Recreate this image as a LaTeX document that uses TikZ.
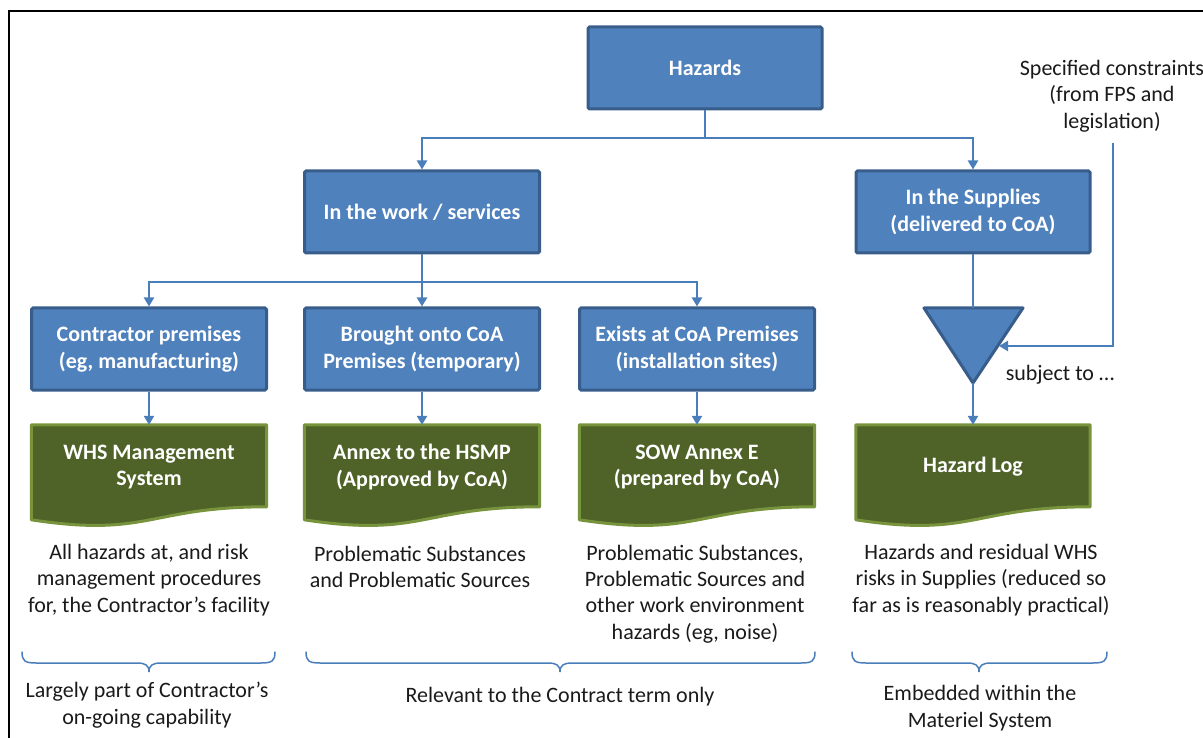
\documentclass[tikz,border=0pt]{standalone}
\usepackage{fontspec}
\setmainfont{Carlito}
\usetikzlibrary{arrows.meta,calc,backgrounds}
\definecolor{bfill}{HTML}{4F81BD}
\definecolor{bline}{HTML}{385D8A}
\definecolor{gfill}{HTML}{4F6228}
\definecolor{gline}{HTML}{77933C}
\definecolor{conn}{HTML}{4A7EBB}
\definecolor{txt}{HTML}{1A1A1A}
\tikzset{
  bluebox/.style={draw=bline, fill=bfill, line width=3pt, rounded corners=1.5pt,
    minimum width=235pt, minimum height=82pt, align=center, text=white,
    font=\fontsize{22}{26.5}\selectfont\bfseries, inner sep=2pt},
  doctext/.style={draw=none, minimum width=235pt, minimum height=84pt, align=center, text=white,
    font=\fontsize{22}{26.5}\selectfont\bfseries, inner sep=2pt},
  docfill/.style={draw=gline, fill=gfill, line width=3pt, line join=round},
  plain/.style={align=center, text=txt, font=\fontsize{22}{26.5}\selectfont, inner sep=0pt},
  link/.style={draw=conn, line width=2.5pt},
  arr/.style={link, -{Triangle[width=10pt,length=9pt]}},
  bracestyle/.style={draw=conn, line width=1.5pt, line cap=round}
}
\newcommand{\docshape}[1]{%
  \begin{pgfonlayer}{background}
  \draw[docfill] (#1.north west) -- (#1.north east) -- ($(#1.north east)+(0,82)$)
    .. controls ($(#1.north)+(0,82)$) and ($(#1.north)+(0,113)$) .. ($(#1.north west)+(0,95)$) -- cycle;
  \end{pgfonlayer}}
\newcommand{\bracepath}[4]{% left x, right x, top y, tip x
  \draw[bracestyle] (#1,#3) .. controls (#1,#3+9) and (#1+3,#3+11) .. (#1+14,#3+11)
    -- (#4-12,#3+11) .. controls (#4-4,#3+11) and (#4,#3+13) .. (#4,#3+20)
    .. controls (#4,#3+13) and (#4+4,#3+11) .. (#4+12,#3+11)
    -- (#2-14,#3+11) .. controls (#2-3,#3+11) and (#2,#3+9) .. (#2,#3);}
\begin{document}
\begin{tikzpicture}[x=1pt,y=-1pt]
\useasboundingbox (0,0) rectangle (1203,738);
% frame
\draw[black, line width=1.8pt] (9,740) -- (9,11) -- (1205,11);

% blue boxes
\node[bluebox, minimum width=234pt] (haz) at (705,68) {Hazards};
\node[bluebox] (work) at (422,212) {In the work / services};
\node[bluebox, minimum width=234pt] (sup) at (973,212) {In the Supplies\\(delivered to CoA)};
\node[bluebox] (cp) at (149,349) {Contractor premises\\(eg, manufacturing)};
\node[bluebox] (bo) at (422,349) {Brought onto CoA\\Premises (temporary)};
\node[bluebox] (ex) at (697,349) {Exists at CoA Premises\\(installation sites)};

% documents
\node[doctext] (d1) at (149,467) {WHS Management\\System};
\node[doctext] (d2) at (422,467) {Annex to the HSMP\\(Approved by CoA)};
\node[doctext] (d3) at (697,467) {SOW Annex E\\(prepared by CoA)};
\node[doctext, minimum width=234pt] (d4) at (973,467) {Hazard Log};
\docshape{d1}\docshape{d2}\docshape{d3}\docshape{d4}

% triangle
\coordinate (tritl) at (924,308);
\coordinate (tritr) at (1023,308);
\coordinate (tritop) at (973,308);
\coordinate (triap) at (973,383);
\coordinate (trihit) at (999,346);
\draw[draw=bline, fill=bfill, line width=3pt, line join=round] (tritl) -- (tritr) -- (triap) -- cycle;

% connectors
\draw[link] (haz.south) -- (705,138);
\draw[arr] (705,138) -| (work.north);
\draw[arr] (705,138) -| (sup.north);
\draw[link] (work.south) -- (422,282);
\draw[arr] (422,282) -| (cp.north);
\draw[arr] (422,282) -- (bo.north);
\draw[arr] (422,282) -| (ex.north);
\draw[arr] (cp.south) -- (d1.north);
\draw[arr] (bo.south) -- (d2.north);
\draw[arr] (ex.south) -- (d3.north);
\draw[link] (sup.south) -- (tritop);
\draw[arr] (triap) -- (d4.north);

% constraints
\node[plain] (cons) at (1112,96) {Specified constraints\\(from FPS and\\legislation)};
\coordinate (c1) at (1113,143);
\draw[arr] (c1) |- (trihit);
\node[plain] (subj) at (1060,375) {subject to \dots};

% descriptions
\node[plain] (t1) at (149,580) {All hazards at, and risk\\management procedures\\for, the Contractor’s facility};
\node[plain] (t2) at (420,567) {Problematic Substances\\and Problematic Sources};
\node[plain] (t3) at (695,594) {Problematic Substances,\\Problematic Sources and\\other work environment\\hazards (eg, noise)};
\node[plain] (t4) at (981,580) {Hazards and residual WHS\\risks in Supplies (reduced so\\far as is reasonably practical)};

% braces
\bracepath{22}{275}{652}{149}
\bracepath{306}{815}{652}{560}
\bracepath{852}{1107}{652}{979}

\node[plain] (b1) at (147,705) {Largely part of Contractor’s\\on-going capability};
\node[plain] (b2) at (560,697) {Relevant to the Contract term only};
\node[plain] (b3) at (980,708) {Embedded within the\\Materiel System};
\end{tikzpicture}
\end{document}
